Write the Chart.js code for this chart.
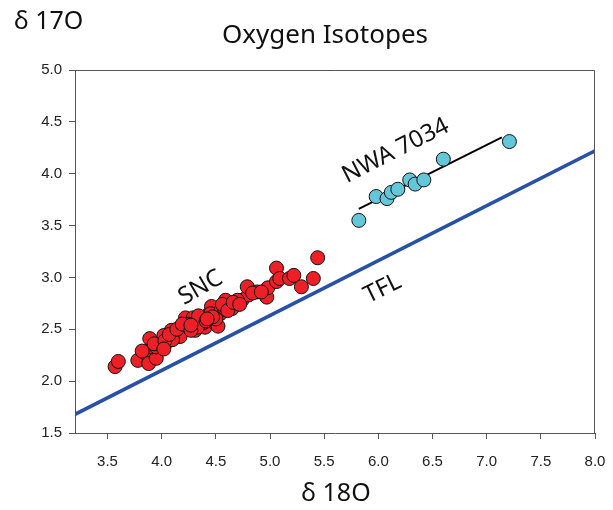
<!DOCTYPE html>
<html>
<head>
<meta charset="utf-8">
<script src="https://cdn.jsdelivr.net/npm/chart.js@4.4.1/dist/chart.umd.min.js"></script>
<style>
  html, body { margin: 0; padding: 0; background: #fff; }
  #wrap { position: relative; width: 613px; height: 510px; }
</style>
</head>
<body>
<div id="wrap"><canvas id="chart" width="613" height="510"></canvas></div>
<script>
// SNC meteorites (delta 18O, delta 17O)
const sncX = [3.57, 3.60, 3.78, 3.85, 3.88, 3.95, 3.91, 3.89, 4.00, 4.05, 4.02, 4.09, 4.12, 4.17,
    4.22, 4.23, 4.22, 4.29, 4.31, 4.37, 4.40, 4.43, 4.46, 4.17, 4.38, 4.45, 4.48, 4.54, 4.55,
    4.59, 4.63, 4.68, 4.74, 4.80, 4.79, 4.88, 4.97, 4.98, 5.06, 5.06, 5.09, 5.18, 5.22, 5.29,
    5.40, 5.44, 4.52, 4.10, 3.95, 4.25, 4.35, 4.58, 4.65, 4.70, 4.33, 4.50,
    3.82, 3.93, 4.03, 4.07, 4.14, 4.19, 4.27, 4.34, 4.41, 4.47, 4.56, 4.61, 4.66, 4.72, 4.84,
    4.92, 4.02, 4.27, 4.42];
const sncY = [2.14, 2.19, 2.20, 2.27, 2.17, 2.22, 2.33, 2.41, 2.35, 2.38, 2.44, 2.49, 2.46, 2.48,
    2.52, 2.57, 2.61, 2.61, 2.49, 2.57, 2.52, 2.64, 2.72, 2.43, 2.56, 2.65, 2.57, 2.65, 2.69,
    2.78, 2.73, 2.75, 2.78, 2.83, 2.91, 2.86, 2.81, 2.90, 3.09, 2.96, 2.99, 2.99, 3.02, 2.91,
    2.99, 3.19, 2.53, 2.40, 2.33, 2.55, 2.60, 2.70, 2.70, 2.78, 2.52, 2.60,
    2.29, 2.36, 2.39, 2.45, 2.50, 2.55, 2.49, 2.63, 2.58, 2.62, 2.74, 2.68, 2.76, 2.74, 2.85,
    2.86, 2.31, 2.54, 2.60];

// NWA 7034
const nwaX = [5.82, 5.98, 6.08, 6.12, 6.18, 6.29, 6.34, 6.42, 6.60, 7.21];
const nwaY = [3.55, 3.78, 3.76, 3.82, 3.85, 3.94, 3.90, 3.94, 4.14, 4.31];

// fitted NWA line and terrestrial fractionation line, end points
const nwaFitX = [5.82, 7.14];
const nwaFitY = [3.66, 4.35];
const tflX = [3.2, 8.0];
const tflY = [1.68, 4.22];

const xTicks = [3.5, 4.0, 4.5, 5.0, 5.5, 6.0, 6.5, 7.0, 7.5, 8.0];
const yTicks = [1.5, 2.0, 2.5, 3.0, 3.5, 4.0, 4.5, 5.0];

const pairs = (xs, ys) => xs.map((x, i) => ({ x, y: ys[i] }));

const AXIS_COLOR = '#555';
const TEXT = '#111';

// annotations: [text, x, y, angle in degrees]
const labels = [
    ['SNC', 4.36, 2.90, -30],
    ['NWA 7034', 6.16, 4.22, -27],
    ['TFL', 6.04, 2.89, -26],
];

const decor = {
    id: 'decor',
    afterDraw(chart) {
        const { ctx, chartArea: a, scales } = chart;
        ctx.save();
        // box around plot
        ctx.strokeStyle = AXIS_COLOR;
        ctx.lineWidth = 1;
        ctx.beginPath();
        ctx.moveTo(a.left, a.top + 0.5);
        ctx.lineTo(a.right - 0.5, a.top + 0.5);
        ctx.lineTo(a.right - 0.5, a.bottom);
        ctx.stroke();

        ctx.fillStyle = TEXT;
        ctx.textAlign = 'center';
        ctx.textBaseline = 'middle';
        ctx.font = '26px "Noto Sans"';
        ctx.fillText('Oxygen Isotopes', 325, 36);
        ctx.font = '25px "Noto Sans"';
        ctx.fillText('δ 18O', 336, 494);
        ctx.textAlign = 'left';
        ctx.fillText('δ 17O', 14, 22);

        ctx.font = '24px "Noto Sans"';
        ctx.textAlign = 'center';
        labels.forEach(([t, x, y, ang]) => {
            ctx.save();
            ctx.translate(scales.x.getPixelForValue(x), scales.y.getPixelForValue(y));
            ctx.rotate(ang * Math.PI / 180);
            ctx.fillText(t, 0, 0);
            ctx.restore();
        });
        ctx.restore();
    },
};

const tickFont = { family: '"Liberation Sans", Arial, sans-serif', size: 15 };

new Chart(document.getElementById('chart'), {
    type: 'scatter',
    data: {
        datasets: [
            {
                data: pairs(tflX, tflY),
                showLine: true,
                borderColor: '#2750a6',
                borderWidth: 3.5,
                pointRadius: 0,
                order: 3,
            },
            {
                data: pairs(nwaFitX, nwaFitY),
                showLine: true,
                borderColor: '#000',
                borderWidth: 2,
                pointRadius: 0,
                order: 2,
            },
            {
                data: pairs(nwaX, nwaY),
                backgroundColor: '#63c7d9',
                borderColor: '#111',
                borderWidth: 1,
                pointRadius: 7,
                order: 1,
            },
            {
                data: pairs(sncX, sncY),
                backgroundColor: '#ee1f26',
                borderColor: '#111',
                borderWidth: 1,
                pointRadius: 7,
                order: 0,
            },
        ],
    },
    options: {
        responsive: false,
        animation: false,
        layout: { padding: { left: 0, right: 18, top: 70, bottom: 0 } },
        plugins: {
            legend: { display: false },
            tooltip: { enabled: false },
            title: { display: false },
        },
        scales: {
            x: {
                type: 'linear',
                min: 3.2,
                max: 8.0,
                afterBuildTicks(s) { s.ticks = xTicks.map((value) => ({ value })); },
                afterFit(s) {
                    s.height = 77;
                    s.paddingLeft = 0;
                    s.paddingRight = 0;
                },
                grid: { drawOnChartArea: false, drawTicks: true, tickLength: 6, color: AXIS_COLOR },
                border: { display: true, color: AXIS_COLOR, width: 1 },
                ticks: {
                    color: '#222',
                    font: tickFont,
                    padding: 14,
                    maxRotation: 0,
                    callback: (v) => Number(v).toFixed(1),
                },
            },
            y: {
                type: 'linear',
                min: 1.5,
                max: 5.0,
                afterBuildTicks(s) { s.ticks = yTicks.map((value) => ({ value })); },
                afterFit(s) {
                    s.width = 75;
                    s.paddingTop = 0;
                    s.paddingBottom = 0;
                },
                grid: { drawOnChartArea: false, drawTicks: true, tickLength: 6, color: AXIS_COLOR },
                border: { display: true, color: AXIS_COLOR, width: 1 },
                ticks: {
                    color: '#222',
                    font: tickFont,
                    padding: 7,
                    callback: (v) => Number(v).toFixed(1),
                },
            },
        },
    },
    plugins: [decor],
});
</script>
</body>
</html>
